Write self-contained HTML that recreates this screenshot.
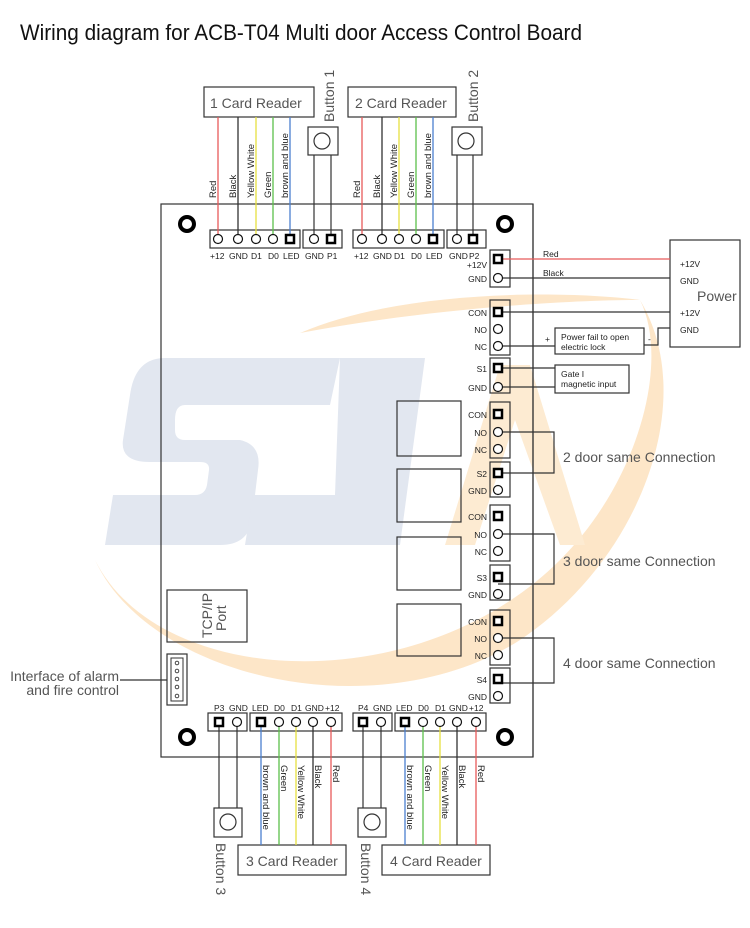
<!DOCTYPE html>
<html><head><meta charset="utf-8"><style>
html,body{margin:0;padding:0;background:#fff;}
svg{display:block;font-family:"Liberation Sans",sans-serif;}
.t{font-size:8.5px;fill:#222;}
.L{font-size:14px;fill:#555;}
.w{font-size:9.5px;fill:#222;}
</style></head><body>
<svg width="750" height="928" viewBox="0 0 750 928" xmlns="http://www.w3.org/2000/svg">
<rect width="750" height="928" fill="#fff"/>
<!-- watermark -->
<path d="M95,560 C160,690 420,700 560,560 C640,480 670,360 640,300 C700,400 640,560 520,640 C380,730 150,680 95,560 Z" fill="#fde6c8"/>
<path d="M300,333 C400,290 560,290 640,300 C560,300 420,310 300,333 Z" fill="#fde6c8"/>
<polygon points="445,545 500,365 530,365 585,545 560,545 515,420 475,545" fill="#fdebd2"/>
<path d="M165,358 L340,358 L330,405 L185,405 Q175,405 175,420 L175,430 Q175,440 185,440 L240,440 Q262,445 258,470 L252,520 Q248,545 220,545 L105,545 L113,495 L195,495 Q205,495 207,485 L209,470 Q210,462 200,462 L150,462 Q120,462 123,440 L130,395 Q135,358 165,358 Z" fill="#e2e7f0"/>
<polygon points="340,358 425,358 400,545 330,545 245,545 253,495 335,495" fill="#e2e7f0"/>
<!-- title -->
<text x="20" y="40" font-size="22" fill="#111" textLength="562" lengthAdjust="spacingAndGlyphs">Wiring diagram for ACB-T04 Multi door Access Control Board</text>
<!-- board -->
<rect x="161" y="204" width="372" height="553" fill="none" stroke="#333" stroke-width="1.2"/>
<g fill="none" stroke="#000" stroke-width="4">
<circle cx="187" cy="224" r="7"/><circle cx="505" cy="224" r="7"/>
<circle cx="187" cy="737" r="7"/><circle cx="505" cy="737" r="7"/>
</g>
<!-- TOP -->
<g fill="none" stroke="#333" stroke-width="1.2">
<rect x="204" y="87" width="110" height="30"/>
<rect x="348" y="87" width="108" height="30"/>
<rect x="308" y="127" width="30" height="28"/><circle cx="322" cy="141" r="8"/>
<rect x="452" y="127" width="30" height="28"/><circle cx="466" cy="141" r="8"/>
<rect x="210" y="230" width="90" height="18"/><rect x="303" y="230" width="39" height="18"/>
<rect x="353" y="230" width="91" height="18"/><rect x="447" y="230" width="39" height="18"/>
<line x1="314" y1="155" x2="314" y2="239"/><line x1="331" y1="155" x2="331" y2="239"/>
<line x1="457" y1="155" x2="457" y2="239"/><line x1="473" y1="155" x2="473" y2="239"/>
</g>
<g stroke-width="1.3">
<line x1="218" y1="117" x2="218" y2="239" stroke="#e85a5a"/>
<line x1="238" y1="117" x2="238" y2="239" stroke="#333"/>
<line x1="256" y1="117" x2="256" y2="239" stroke="#e6e040"/>
<line x1="273" y1="117" x2="273" y2="239" stroke="#5cc04a"/>
<line x1="290" y1="117" x2="290" y2="239" stroke="#4a7fd0"/>
<line x1="362" y1="117" x2="362" y2="239" stroke="#e85a5a"/>
<line x1="382" y1="117" x2="382" y2="239" stroke="#333"/>
<line x1="399" y1="117" x2="399" y2="239" stroke="#e6e040"/>
<line x1="416" y1="117" x2="416" y2="239" stroke="#5cc04a"/>
<line x1="433" y1="117" x2="433" y2="239" stroke="#4a7fd0"/>
</g>
<g fill="#fff" stroke="#111" stroke-width="1.2">
<circle cx="218" cy="239" r="4.5"/><circle cx="238" cy="239" r="4.5"/><circle cx="256" cy="239" r="4.5"/><circle cx="273" cy="239" r="4.5"/>
<circle cx="314" cy="239" r="4.5"/>
<circle cx="362" cy="239" r="4.5"/><circle cx="382" cy="239" r="4.5"/><circle cx="399" cy="239" r="4.5"/><circle cx="416" cy="239" r="4.5"/>
<circle cx="457" cy="239" r="4.5"/>
</g>
<g fill="#fff" stroke="#000" stroke-width="2.5">
<rect x="286" y="235" width="8" height="8"/><rect x="327" y="235" width="8" height="8"/>
<rect x="429" y="235" width="8" height="8"/><rect x="469" y="235" width="8" height="8"/>
</g>
<g class="t">
<text x="210" y="259">+12</text><text x="229" y="259">GND</text><text x="251" y="259">D1</text><text x="268" y="259">D0</text><text x="283" y="259">LED</text>
<text x="305" y="259">GND</text><text x="327" y="259">P1</text>
<text x="354" y="259">+12</text><text x="373" y="259">GND</text><text x="394" y="259">D1</text><text x="411" y="259">D0</text><text x="426" y="259">LED</text>
<text x="449" y="259">GND</text><text x="469" y="259">P2</text>
</g>
<g class="w">
<text transform="translate(216,198) rotate(-90)">Red</text>
<text transform="translate(236,198) rotate(-90)">Black</text>
<text transform="translate(254,198) rotate(-90)">Yellow White</text>
<text transform="translate(271,198) rotate(-90)">Green</text>
<text transform="translate(288,198) rotate(-90)">brown and blue</text>
<text transform="translate(360,198) rotate(-90)">Red</text>
<text transform="translate(380,198) rotate(-90)">Black</text>
<text transform="translate(397,198) rotate(-90)">Yellow White</text>
<text transform="translate(414,198) rotate(-90)">Green</text>
<text transform="translate(431,198) rotate(-90)">brown and blue</text>
</g>
<g class="L">
<text x="210" y="108">1  Card Reader</text>
<text x="355" y="108">2 Card Reader</text>
<text transform="translate(334,122) rotate(-90)">Button 1</text>
<text transform="translate(478,122) rotate(-90)">Button 2</text>
</g>
<!-- board vertical line -->
<line x1="533" y1="204" x2="533" y2="757" stroke="#333" stroke-width="1.2"/>
<!-- right blocks -->
<g fill="none" stroke="#333" stroke-width="1.2">
<rect x="490" y="250" width="20" height="37"/>
<rect x="490" y="300" width="20" height="55"/>
<rect x="490" y="358" width="20" height="35"/>
<rect x="490" y="402" width="20" height="56"/>
<rect x="490" y="462" width="20" height="35"/>
<rect x="490" y="505" width="20" height="56"/>
<rect x="490" y="565" width="20" height="35"/>
<rect x="490" y="610" width="20" height="55"/>
<rect x="490" y="668" width="20" height="35"/>
<rect x="397" y="401" width="64" height="55"/>
<rect x="397" y="469" width="64" height="53"/>
<rect x="397" y="537" width="64" height="53"/>
<rect x="397" y="604" width="64" height="52"/>
<rect x="670" y="240" width="70" height="107"/>
<rect x="555" y="328" width="89" height="26"/>
<rect x="555" y="365" width="74" height="28"/>
<line x1="498" y1="278" x2="670" y2="278"/>
<line x1="498" y1="312" x2="670" y2="312"/>
<line x1="498" y1="346" x2="555" y2="346"/>
<polyline points="644,345 658,345 658,328 670,328"/>
<line x1="498" y1="368" x2="555" y2="368"/>
<line x1="498" y1="387" x2="555" y2="387"/>
<polyline points="498,432 554,432 554,473 498,473"/>
<polyline points="498,534 554,534 554,584 498,584"/>
<polyline points="498,638 554,638 554,683 498,683"/>
</g>
<line x1="498" y1="259" x2="670" y2="259" stroke="#e85a5a" stroke-width="1.3"/>
<g fill="#fff" stroke="#111" stroke-width="1.2">
<circle cx="498" cy="278" r="4.5"/>
<circle cx="498" cy="329" r="4.5"/><circle cx="498" cy="346" r="4.5"/>
<circle cx="498" cy="387" r="4.5"/>
<circle cx="498" cy="432" r="4.5"/><circle cx="498" cy="449" r="4.5"/><circle cx="498" cy="490" r="4.5"/>
<circle cx="498" cy="534" r="4.5"/><circle cx="498" cy="551" r="4.5"/><circle cx="498" cy="594" r="4.5"/>
<circle cx="498" cy="638" r="4.5"/><circle cx="498" cy="655" r="4.5"/><circle cx="498" cy="696" r="4.5"/>
</g>
<g fill="#fff" stroke="#000" stroke-width="2.5">
<rect x="494" y="255" width="8" height="8"/><rect x="494" y="308" width="8" height="8"/>
<rect x="494" y="364" width="8" height="8"/><rect x="494" y="410" width="8" height="8"/>
<rect x="494" y="469" width="8" height="8"/><rect x="494" y="512" width="8" height="8"/>
<rect x="494" y="573" width="8" height="8"/><rect x="494" y="617" width="8" height="8"/>
<rect x="494" y="675" width="8" height="8"/>
</g>
<g class="t" text-anchor="end">
<text x="487" y="268">+12V</text><text x="487" y="282">GND</text>
<text x="487" y="316">CON</text><text x="487" y="333">NO</text><text x="487" y="350">NC</text>
<text x="487" y="372">S1</text><text x="487" y="391">GND</text>
<text x="487" y="418">CON</text><text x="487" y="436">NO</text><text x="487" y="453">NC</text>
<text x="487" y="477">S2</text><text x="487" y="494">GND</text>
<text x="487" y="520">CON</text><text x="487" y="538">NO</text><text x="487" y="555">NC</text>
<text x="487" y="581">S3</text><text x="487" y="598">GND</text>
<text x="487" y="625">CON</text><text x="487" y="642">NO</text><text x="487" y="659">NC</text>
<text x="487" y="683">S4</text><text x="487" y="700">GND</text>
</g>
<g class="t">
<text x="543" y="257">Red</text><text x="543" y="276">Black</text>
<text x="680" y="267">+12V</text><text x="680" y="284">GND</text>
<text x="680" y="316">+12V</text><text x="680" y="333">GND</text>
<text x="545" y="342">+</text><text x="648" y="342">-</text>
<text x="561" y="340">Power fail to open</text><text x="561" y="350">electric lock</text>
<text x="561" y="377">Gate I</text><text x="561" y="387">magnetic input</text>
</g>
<text x="697" y="301" font-size="14" fill="#555">Power</text>
<g font-size="14" fill="#555">
<text x="563" y="462">2 door same Connection</text>
<text x="563" y="566">3 door same Connection</text>
<text x="563" y="668">4 door same Connection</text>
</g>
<!-- TCP/IP & interface -->
<rect x="167" y="590" width="80" height="52" fill="none" stroke="#333" stroke-width="1.2"/>
<text transform="translate(212,638) rotate(-90)" font-size="14" fill="#555">TCP/IP</text>
<text transform="translate(226,631) rotate(-90)" font-size="14" fill="#555">Port</text>
<rect x="167" y="654" width="20" height="51" fill="none" stroke="#333" stroke-width="1.2"/>
<rect x="171" y="658" width="12" height="43" fill="none" stroke="#333" stroke-width="1"/>
<g fill="none" stroke="#333" stroke-width="0.9">
<circle cx="177" cy="663" r="1.8"/><circle cx="177" cy="671" r="1.8"/><circle cx="177" cy="679" r="1.8"/><circle cx="177" cy="687" r="1.8"/><circle cx="177" cy="696" r="1.8"/>
</g>
<line x1="120" y1="680" x2="167" y2="680" stroke="#333" stroke-width="1.2"/>
<g font-size="14" fill="#555" text-anchor="end">
<text x="119" y="681">Interface of alarm</text><text x="119" y="695">and fire control</text>
</g>
<!-- BOTTOM -->
<g fill="none" stroke="#333" stroke-width="1.2">
<rect x="208" y="713" width="39" height="18"/><rect x="250" y="713" width="92" height="18"/>
<rect x="353" y="713" width="39" height="18"/><rect x="395" y="713" width="91" height="18"/>
<rect x="214" y="808" width="28" height="29"/><circle cx="228" cy="822" r="8"/>
<rect x="358" y="808" width="28" height="29"/><circle cx="372" cy="822" r="8"/>
<rect x="238" y="845" width="108" height="30"/><rect x="382" y="845" width="108" height="30"/>
<line x1="219" y1="722" x2="219" y2="808"/><line x1="237" y1="722" x2="237" y2="808"/>
<line x1="363" y1="722" x2="363" y2="808"/><line x1="381" y1="722" x2="381" y2="808"/>
</g>
<g stroke-width="1.3">
<line x1="261" y1="722" x2="261" y2="845" stroke="#4a7fd0"/>
<line x1="279" y1="722" x2="279" y2="845" stroke="#5cc04a"/>
<line x1="296" y1="722" x2="296" y2="845" stroke="#e6e040"/>
<line x1="313" y1="722" x2="313" y2="845" stroke="#333"/>
<line x1="331" y1="722" x2="331" y2="845" stroke="#e85a5a"/>
<line x1="405" y1="722" x2="405" y2="845" stroke="#4a7fd0"/>
<line x1="423" y1="722" x2="423" y2="845" stroke="#5cc04a"/>
<line x1="440" y1="722" x2="440" y2="845" stroke="#e6e040"/>
<line x1="457" y1="722" x2="457" y2="845" stroke="#333"/>
<line x1="476" y1="722" x2="476" y2="845" stroke="#e85a5a"/>
</g>
<g fill="#fff" stroke="#111" stroke-width="1.2">
<circle cx="237" cy="722" r="4.5"/>
<circle cx="279" cy="722" r="4.5"/><circle cx="296" cy="722" r="4.5"/><circle cx="313" cy="722" r="4.5"/><circle cx="331" cy="722" r="4.5"/>
<circle cx="381" cy="722" r="4.5"/>
<circle cx="423" cy="722" r="4.5"/><circle cx="440" cy="722" r="4.5"/><circle cx="457" cy="722" r="4.5"/><circle cx="476" cy="722" r="4.5"/>
</g>
<g fill="#fff" stroke="#000" stroke-width="2.5">
<rect x="215" y="718" width="8" height="8"/><rect x="257" y="718" width="8" height="8"/>
<rect x="359" y="718" width="8" height="8"/><rect x="401" y="718" width="8" height="8"/>
</g>
<g class="t">
<text x="214" y="711">P3</text><text x="229" y="711">GND</text><text x="252" y="711">LED</text><text x="274" y="711">D0</text><text x="291" y="711">D1</text><text x="305" y="711">GND</text><text x="325" y="711">+12</text>
<text x="358" y="711">P4</text><text x="373" y="711">GND</text><text x="396" y="711">LED</text><text x="418" y="711">D0</text><text x="435" y="711">D1</text><text x="449" y="711">GND</text><text x="469" y="711">+12</text>
</g>
<g class="w">
<text transform="translate(263,765) rotate(90)">brown and blue</text>
<text transform="translate(281,765) rotate(90)">Green</text>
<text transform="translate(298,765) rotate(90)">Yellow White</text>
<text transform="translate(315,765) rotate(90)">Black</text>
<text transform="translate(333,765) rotate(90)">Red</text>
<text transform="translate(407,765) rotate(90)">brown and blue</text>
<text transform="translate(425,765) rotate(90)">Green</text>
<text transform="translate(442,765) rotate(90)">Yellow White</text>
<text transform="translate(459,765) rotate(90)">Black</text>
<text transform="translate(478,765) rotate(90)">Red</text>
</g>
<g class="L">
<text x="246" y="866">3  Card Reader</text>
<text x="390" y="866">4  Card Reader</text>
<text transform="translate(216,843) rotate(90)">Button 3</text>
<text transform="translate(361,843) rotate(90)">Button 4</text>
</g>
</svg>
</body></html>
